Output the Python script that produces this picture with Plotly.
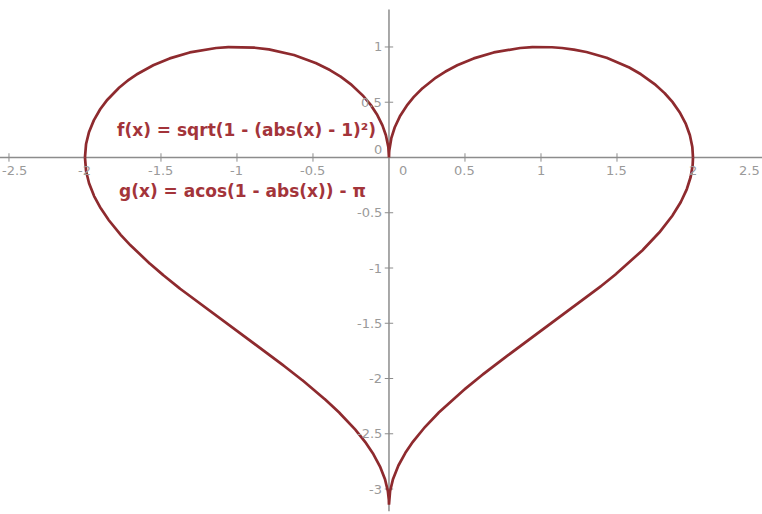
import numpy as np
import plotly.graph_objects as go

# Heart built from two functions (as labelled on the chart)
f_label = "f(x) = sqrt(1 - (abs(x) - 1)²)"
g_label = "g(x) = acos(1 - abs(x)) - π"
x_domain = [-2.0, 2.0]

# Axis ticks and their labels
x_ticks = [-2.5, -2, -1.5, -1, -0.5, 0.5, 1, 1.5, 2, 2.5]
x_tick_text = ["-2.5", "-2", "-1.5", "-1", "-0.5", "0.5", "1", "1.5", "2", "2.5"]
y_ticks = [1, 0.5, -0.5, -1, -1.5, -2, -2.5, -3]
y_tick_text = ["1", "0.5", "-0.5", "-1", "-1.5", "-2", "-2.5", "-3"]

X_RANGE = [-2.559, 2.454]
Y_RANGE = [-3.226, 1.425]

CURVE = "#8e2a2e"
LABEL = "#a3343a"
AXIS = "#8c8c8c"
TICKTXT = "#9a9a9a"

xs = np.linspace(x_domain[0], x_domain[1], 4001)
f = np.sqrt(np.clip(1 - (np.abs(xs) - 1) ** 2, 0, None))
g = np.arccos(np.clip(1 - np.abs(xs), -1, 1)) - np.pi

fig = go.Figure()

# axes lines
fig.add_trace(go.Scatter(x=[-2.6, 2.5], y=[0, 0], mode="lines",
                         line=dict(color=AXIS, width=1.5), hoverinfo="skip"))
fig.add_trace(go.Scatter(x=[0, 0], y=[1.34, -3.2], mode="lines",
                         line=dict(color=AXIS, width=1.5), hoverinfo="skip"))
# tick marks
fig.add_trace(go.Scatter(x=x_ticks, y=[0] * len(x_ticks), mode="markers",
                         marker=dict(symbol="line-ns", size=6,
                                     line=dict(color=AXIS, width=1)),
                         hoverinfo="skip"))
fig.add_trace(go.Scatter(x=[0] * len(y_ticks), y=y_ticks, mode="markers",
                         marker=dict(symbol="line-ew", size=6,
                                     line=dict(color=AXIS, width=1)),
                         hoverinfo="skip"))

# the two curves
fig.add_trace(go.Scatter(x=xs, y=f, mode="lines",
                         line=dict(color=CURVE, width=2.7), name="f"))
fig.add_trace(go.Scatter(x=xs, y=g, mode="lines",
                         line=dict(color=CURVE, width=2.7), name="g"))

annotations = []
tick_font = dict(family="DejaVu Sans", size=13, color=TICKTXT)
for xv, t in zip(x_ticks, x_tick_text):
    ann = dict(x=xv, y=-0.115, text=t, showarrow=False,
               xanchor="center", yanchor="middle", font=tick_font)
    # labels whose tick sits at the frame edge are pinned inside the paper
    if xv < X_RANGE[0] + 0.1:
        ann.update(x=0.0, xref="paper", xanchor="left")
    elif xv > X_RANGE[1] - 0.1:
        ann.update(x=1.0, xref="paper", xanchor="right")
    annotations.append(ann)
annotations.append(dict(x=0.095, y=-0.115, text="0", showarrow=False,
                        xanchor="center", yanchor="middle", font=tick_font))
for yv, t in zip(y_ticks, y_tick_text):
    annotations.append(dict(x=-0.03, y=yv, text=t, showarrow=False,
                            xanchor="right", yanchor="middle", font=tick_font))
annotations.append(dict(x=-0.03, y=0.07, text="0", showarrow=False,
                        xanchor="right", yanchor="middle", font=tick_font))

label_font = dict(family="DejaVu Sans", size=17, color=LABEL)
annotations.append(dict(x=-0.94, y=0.25, text="<b>" + f_label + "</b>",
                        showarrow=False, xanchor="center", yanchor="middle",
                        font=label_font))
annotations.append(dict(x=-0.965, y=-0.30, text="<b>" + g_label + "</b>",
                        showarrow=False, xanchor="center", yanchor="middle",
                        font=label_font))

fig.update_layout(
    width=762, height=514,
    margin=dict(l=0, r=0, t=0, b=0),
    paper_bgcolor="white", plot_bgcolor="white",
    showlegend=False,
    xaxis=dict(range=X_RANGE, visible=False),
    yaxis=dict(range=Y_RANGE, visible=False),
    annotations=annotations,
)

fig.write_html("out.html")
